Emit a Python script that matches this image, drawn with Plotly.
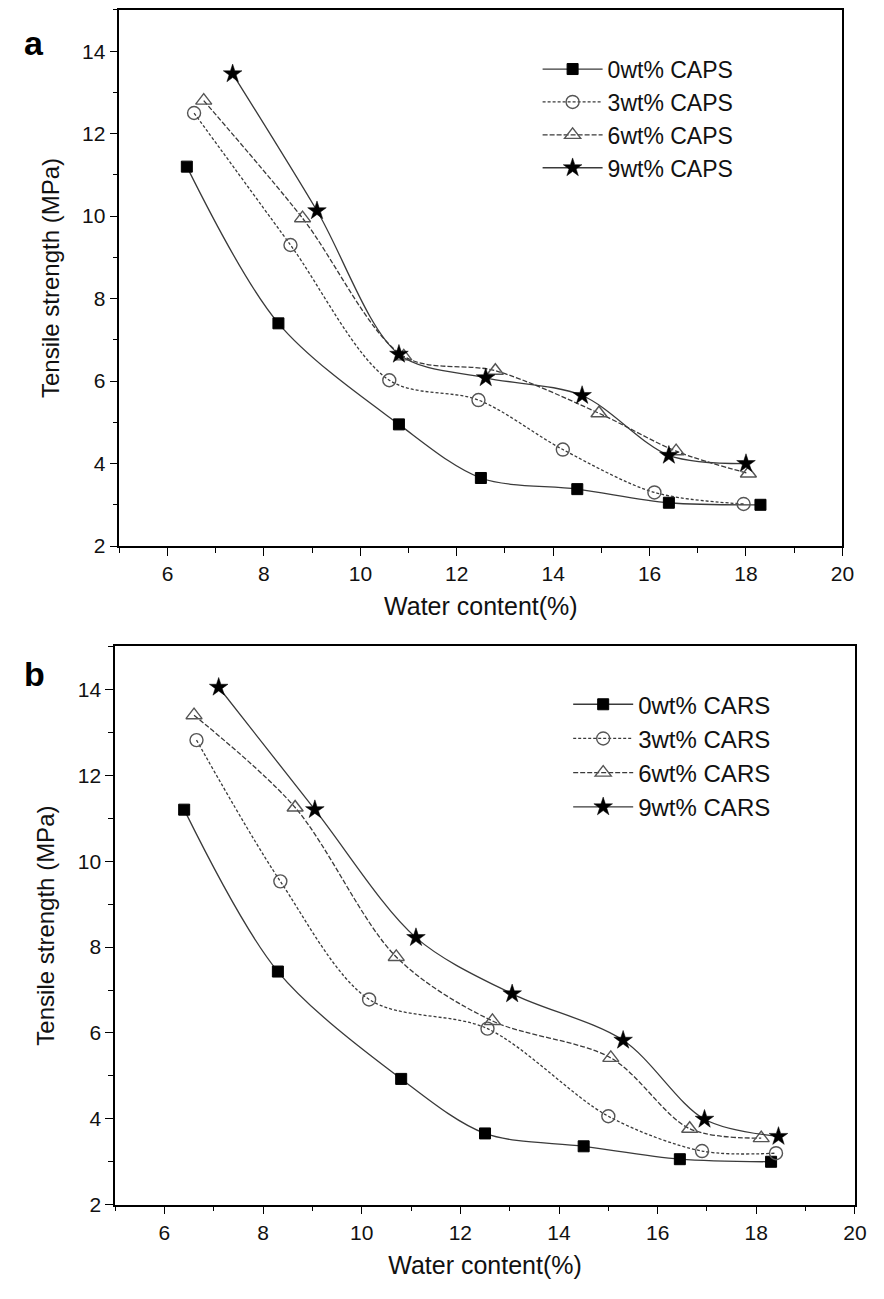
import plotly.graph_objects as go

# Panel a (CAPS)
a0_x = [6.4, 8.3, 10.8, 12.5, 14.5, 16.4, 18.3]
a0_y = [11.2, 7.4, 4.95, 3.65, 3.38, 3.05, 3.0]
a3_x = [6.55, 8.55, 10.6, 12.45, 14.2, 16.1, 17.95]
a3_y = [12.5, 9.3, 6.02, 5.54, 4.34, 3.3, 3.02]
a6_x = [6.75, 8.8, 10.9, 12.8, 14.95, 16.55, 18.05]
a6_y = [12.8, 9.95, 6.6, 6.25, 5.22, 4.3, 3.76]
a9_x = [7.35, 9.1, 10.8, 12.6, 14.6, 16.4, 18.0]
a9_y = [13.45, 10.13, 6.65, 6.08, 5.65, 4.2, 4.0]

# Panel b (CARS)
b0_x = [6.4, 8.3, 10.8, 12.5, 14.5, 16.45, 18.3]
b0_y = [11.2, 7.43, 4.93, 3.66, 3.36, 3.06, 3.0]
b3_x = [6.65, 8.35, 10.15, 12.55, 15.0, 16.9, 18.4]
b3_y = [12.82, 9.53, 6.78, 6.1, 4.06, 3.25, 3.2]
b6_x = [6.6, 8.65, 10.7, 12.65, 15.05, 16.65, 18.1]
b6_y = [13.4, 11.25, 7.77, 6.28, 5.42, 3.77, 3.55]
b9_x = [7.1, 9.05, 11.1, 13.05, 15.3, 16.95, 18.45]
b9_y = [14.05, 11.2, 8.22, 6.91, 5.83, 3.99, 3.59]

names_a = ["0wt% CAPS", "3wt% CAPS", "6wt% CAPS", "9wt% CAPS"]
names_b = ["0wt% CARS", "3wt% CARS", "6wt% CARS", "9wt% CARS"]

styles = [
    dict(symbol="square", color="black", line=dict(color="black", width=1), size=11, dash="solid"),
    dict(symbol="circle-open", color="#555", line=dict(color="#555", width=1.4), size=13, dash="3px,2px"),
    dict(symbol="triangle-up-open", color="#555", line=dict(color="#555", width=1.4), size=14, dash="5px,2px"),
    dict(symbol="star", color="black", line=dict(color="black", width=0.5), size=14, dash="solid"),
]

fig = go.Figure()

def add_panel(series, names, xa, ya, legend):
    for (xs, ys), nm, st in zip(series, names, styles):
        fig.add_trace(go.Scatter(
            x=xs, y=ys, name=nm, mode="lines+markers",
            line=dict(shape="spline", smoothing=0.9, color="#3a3a3a", width=1.3, dash=st["dash"]),
            marker=dict(symbol=st["symbol"], color=st["color"], size=st["size"], line=st["line"]),
            xaxis=xa, yaxis=ya, legend=legend,
        ))

add_panel([(a0_x, a0_y), (a3_x, a3_y), (a6_x, a6_y), (a9_x, a9_y)], names_a, "x", "y", "legend")
add_panel([(b0_x, b0_y), (b3_x, b3_y), (b6_x, b6_y), (b9_x, b9_y)], names_b, "x2", "y2", "legend2")

W, H = 884, 1299
font = "Liberation Sans, Arial, Helvetica, sans-serif"

def xax(domain, anchor):
    return dict(domain=domain, anchor=anchor, range=[5, 20], dtick=2, tick0=0,
                ticks="outside", ticklen=8, tickwidth=1.3, tickcolor="black",
                minor=dict(dtick=1, ticks="outside", ticklen=5, tickwidth=1.2, tickcolor="black"),
                showline=True, linecolor="black", linewidth=1.5, mirror=True,
                showgrid=False, zeroline=False,
                tickfont=dict(family=font, size=21, color="#111"),
                title=dict(text="Water content(%)", font=dict(family=font, size=25, color="#111"), standoff=14))

def yax(domain, anchor):
    return dict(domain=domain, anchor=anchor, range=[2, 15], dtick=2, tick0=2,
                ticks="outside", ticklen=8, tickwidth=1.3, tickcolor="black",
                minor=dict(dtick=1, ticks="outside", ticklen=5, tickwidth=1.2, tickcolor="black"),
                showline=True, linecolor="black", linewidth=1.5, mirror=True,
                showgrid=False, zeroline=False,
                tickfont=dict(family=font, size=21, color="#111"),
                title=dict(text="Tensile strength (MPa)", font=dict(family=font, size=24, color="#111"), standoff=16))

def legend_common(size):
    return dict(bgcolor="rgba(0,0,0,0)", borderwidth=0, itemwidth=60,
                font=dict(family=font, size=size, color="#111"), tracegroupgap=0,
                xanchor="left", yanchor="top")

fig.update_layout(
    width=W, height=H, margin=dict(l=0, r=0, t=0, b=0),
    paper_bgcolor="white", plot_bgcolor="white",
    xaxis=xax([121 / W, 854 / W], "y"),
    yaxis=yax([1 - 550.7 / H, 1 - 10 / H], "x"),
    xaxis2=xax([116.7 / W, 866.7 / W], "y2"),
    yaxis2=yax([1 - 1215 / H, 1 - 652 / H], "x2"),
    legend=dict(x=545 / W, y=1 - 48 / H, **legend_common(23)),
    legend2=dict(x=576 / W, y=1 - 688 / H, **legend_common(24)),
    annotations=[
        dict(text="<b>a</b>", x=22 / W, y=1 - 22 / H, xref="paper", yref="paper",
             showarrow=False, font=dict(family=font, size=34, color="black")),
        dict(text="<b>b</b>", x=22 / W, y=1 - 680 / H, xref="paper", yref="paper",
             showarrow=False, font=dict(family=font, size=34, color="black")),
    ],
)

fig.write_html("out.html")
